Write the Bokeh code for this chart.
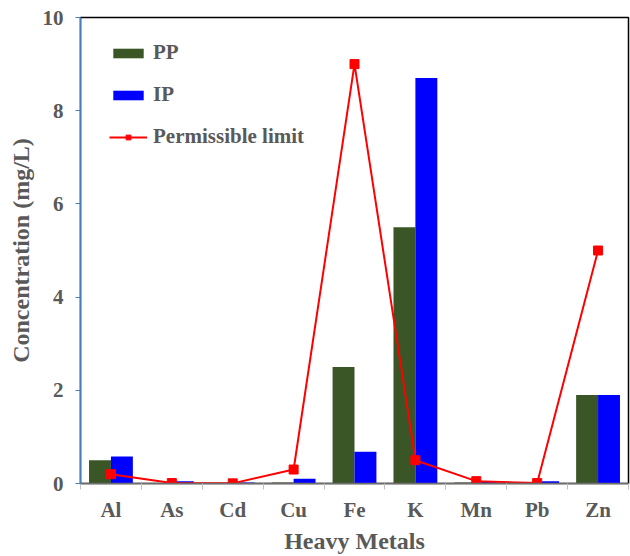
from bokeh.plotting import figure
from bokeh.models import (ColumnDataSource, FactorRange, Range1d, LinearAxis, CategoricalAxis,
                          FixedTicker, Legend, LegendItem)
from bokeh.transform import dodge
from bokeh.embed import file_html
from bokeh.resources import INLINE

metals = ["Al", "As", "Cd", "Cu", "Fe", "K", "Mn", "Pb", "Zn"]
pp = [0.50, 0.01, 0.005, 0.02, 2.50, 5.50, 0.02, 0.02, 1.90]
ip = [0.58, 0.05, 0.02, 0.10, 0.68, 8.70, 0.03, 0.05, 1.90]
limit = [0.20, 0.01, 0.003, 0.30, 9.00, 0.50, 0.05, 0.01, 5.00]
y_ticks = [0, 2, 4, 6, 8, 10]

src = ColumnDataSource(dict(metal=metals, pp=pp, ip=ip, limit=limit))

FONT = "Liberation Serif"
GREY = "#595959"

p = figure(x_range=FactorRange(*metals, range_padding=0), y_range=Range1d(0, 10),
           width=630, height=556, output_backend="svg", toolbar_location=None,
           x_axis_location=None, min_border_left=80, min_border_top=17,
           min_border_right=2, min_border_bottom=73)
p.xgrid.visible = False
p.ygrid.visible = False
p.outline_line_color = "black"
p.outline_line_width = 1.5
p.background_fill_color = "white"
p.border_fill_color = "white"

r_pp = p.vbar(x=dodge("metal", -0.18, range=p.x_range), top="pp", width=0.36, source=src,
              fill_color="#3a5526", line_color=None)
r_ip = p.vbar(x=dodge("metal", 0.18, range=p.x_range), top="ip", width=0.36, source=src,
              fill_color="#0000ff", line_color=None)
r_line = p.line(x="metal", y="limit", source=src, line_color="#ff0000", line_width=2)
r_mark = p.scatter(x="metal", y="limit", source=src, marker="square", size=9,
                   fill_color="#ff0000", line_color="#ff0000")

# y axis
ya = p.yaxis[0]
ya.ticker = FixedTicker(ticks=y_ticks)
ya.minor_tick_line_color = None
ya.axis_line_color = "#4a7ebb"
ya.axis_line_width = 1.5
ya.major_tick_line_color = "#4a7ebb"
ya.major_tick_out = 5
ya.major_tick_in = 0
ya.major_label_standoff = 12
ya.major_label_text_font = FONT
ya.major_label_text_font_style = "bold"
ya.major_label_text_font_size = "21px"
ya.major_label_text_color = GREY
ya.axis_label = "Concentration (mg/L)"
ya.axis_label_text_font = FONT
ya.axis_label_text_font_style = "bold"
ya.axis_label_text_font_size = "24px"
ya.axis_label_text_color = GREY
ya.axis_label_standoff = 6

# separator ticks axis (category boundaries, synthetic coordinates)
sep = LinearAxis(ticker=FixedTicker(ticks=list(range(len(metals) + 1))))
sep.axis_line_color = "#6f6f6f"
sep.axis_line_width = 1.5
sep.major_tick_line_color = "#bfbfbf"
sep.major_tick_out = 6
sep.major_tick_in = 0
sep.minor_tick_line_color = None
sep.major_label_text_font_size = "1px"
sep.major_label_text_color = None
sep.major_label_standoff = 0
p.add_layout(sep, "below")

xa = CategoricalAxis()
xa.axis_line_color = None
xa.major_tick_line_color = None
xa.minor_tick_line_color = None
xa.major_label_standoff = 2
xa.major_label_text_font = FONT
xa.major_label_text_font_style = "bold"
xa.major_label_text_font_size = "21px"
xa.major_label_text_color = GREY
xa.axis_label = "Heavy Metals"
xa.axis_label_text_font = FONT
xa.axis_label_text_font_style = "bold"
xa.axis_label_text_font_size = "24px"
xa.axis_label_text_color = GREY
xa.axis_label_standoff = 3
p.add_layout(xa, "below")

legend = Legend(items=[LegendItem(label="PP", renderers=[r_pp]),
                       LegendItem(label="IP", renderers=[r_ip]),
                       LegendItem(label="Permissible limit", renderers=[r_line, r_mark])],
                location=(29, 334))
legend.border_line_color = None
legend.background_fill_alpha = 0
legend.glyph_width = 38
legend.glyph_height = 12
legend.label_height = 20
legend.spacing = 17
legend.padding = 5
legend.margin = 0
legend.label_standoff = 6
legend.label_text_font = FONT
legend.label_text_font_style = "bold"
legend.label_text_font_size = "21px"
legend.label_text_color = GREY
p.add_layout(legend, "center")

open("out.html", "w").write(file_html(p, INLINE))
